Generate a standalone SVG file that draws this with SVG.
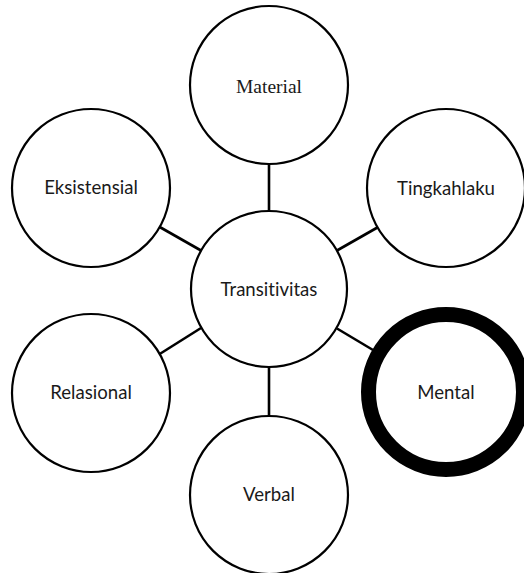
<svg xmlns="http://www.w3.org/2000/svg" width="524" height="573" viewBox="0 0 524 573">
<style>
.node circle{fill:#fff;stroke:#000;stroke-width:2.2}
.node text{font-family:Lato,"Open Sans",sans-serif;font-size:18.6px;fill:#1a1a1a;text-anchor:middle;font-variant-ligatures:none}
.node text.serif{font-family:"Liberation Serif","Times New Roman",serif;font-size:19.5px}
#mental circle{stroke-width:15}
.conn line{stroke:#000;stroke-width:2.6}
</style>
<rect width="524" height="573" fill="#fff"/>
<g class="conn">
<line x1="269" y1="164" x2="269" y2="211"/>
<line x1="269" y1="367" x2="269" y2="416"/>
<line x1="159.7" y1="227" x2="201" y2="250.5"/>
<line x1="159.7" y1="354" x2="201" y2="328"/>
<line x1="377.4" y1="227.5" x2="337" y2="250.5"/>
<line x1="337" y1="328.5" x2="373" y2="350"/>
</g>
<g id="material" class="node"><circle cx="269" cy="85" r="79"/><text class="serif" x="269" y="92.5">Material</text></g>
<g id="eksistensial" class="node"><circle cx="91" cy="188" r="79"/><text x="91" y="194">Eksistensial</text></g>
<g id="tingkahlaku" class="node"><circle cx="446" cy="188" r="79"/><text x="446" y="195">Tingkahlaku</text></g>
<g id="transitivitas" class="node"><circle cx="269" cy="289" r="78"/><text x="269" y="296">Transitivitas</text></g>
<g id="relasional" class="node"><circle cx="91" cy="393" r="79"/><text x="91" y="399">Relasional</text></g>
<g id="mental" class="node"><circle cx="446" cy="392" r="77.5"/><text x="446" y="399">Mental</text></g>
<g id="verbal" class="node"><circle cx="269" cy="495" r="79"/><text x="269" y="501">Verbal</text></g>
</svg>
